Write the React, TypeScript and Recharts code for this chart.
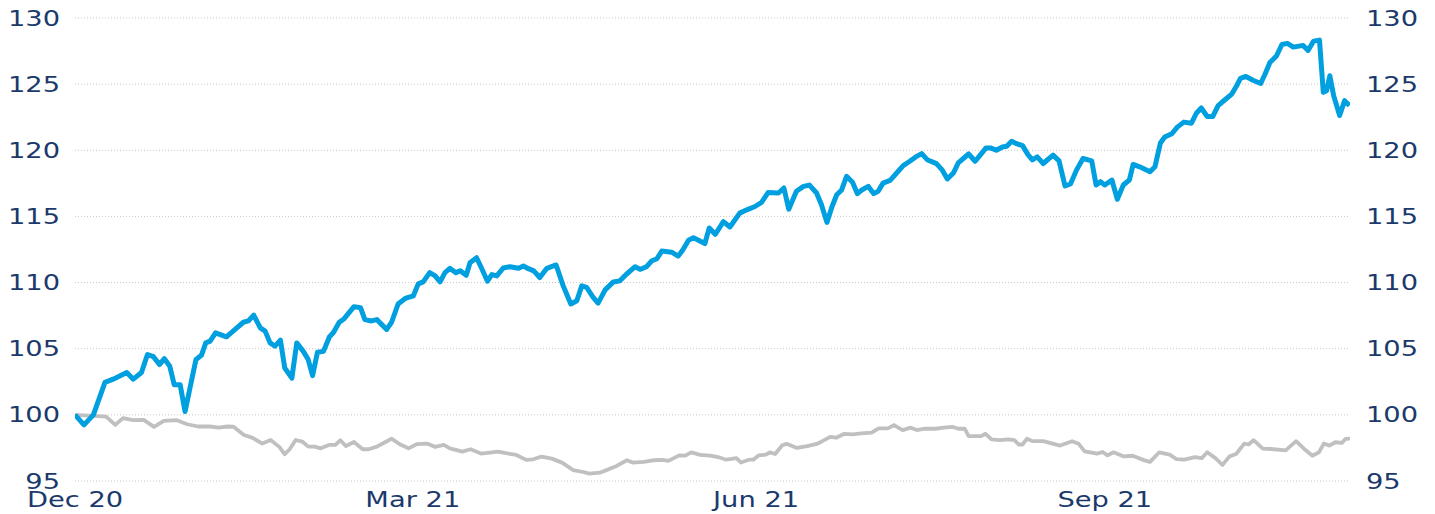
import { LineChart, Line, XAxis, YAxis, CartesianGrid } from "recharts";

// position along the time axis (trading days since 31 Dec 2020) and index level
const blueDay = [
  0, 1.65, 3.37, 5.5, 7.0, 9.5, 10.7, 12.2, 13.3, 14.4, 15.5, 16.4, 17.4, 18.2,
  19.3, 20.2, 22.2, 23.2, 24.0, 24.8, 25.8, 27.8, 29.7, 30.9, 31.8, 32.8, 34.0,
  34.9, 35.8, 36.7, 37.7, 38.5, 39.8, 40.7, 41.9, 42.8, 43.6, 44.5, 45.6, 46.7,
  47.4, 48.5, 49.4, 51.2, 52.4, 53.2, 54.4, 55.4, 57.2, 58.1, 59.3, 60.6, 62.1,
  63.0, 63.9, 65.1, 66.1, 67.0, 67.9, 68.8, 69.9, 70.7, 71.8, 72.5, 73.7, 74.6,
  75.7, 76.5, 77.4, 78.6, 79.8, 81.4, 82.3, 83.2, 84.2, 85.3, 86.6, 88.3, 89.6,
  91.0, 92.1, 93.0, 93.9, 95.1, 96.0, 97.3, 98.8, 100.0, 101.2, 102.8, 103.7,
  104.9, 105.8, 106.8, 107.7, 109.5, 110.7, 111.6, 112.6, 113.5, 115.6, 116.4,
  117.5, 119.0, 120.2, 122.0, 123.3, 124.8, 126.0, 127.2, 129.1, 130.1, 131.0,
  132.4, 133.7, 134.8, 136.1, 137.0, 138.0, 138.9, 139.8, 140.7, 141.6, 142.7,
  143.6, 144.4, 145.6, 146.6, 147.4, 148.3, 149.6, 150.8, 152.0, 153.2, 154.3,
  155.4, 156.4, 158.1, 159.1, 160.1, 161.2, 162.1, 164.0, 165.2, 166.2, 167.2,
  168.0, 169.1, 170.2, 171.0, 171.9, 172.8, 173.9, 174.9, 175.7, 176.6, 177.7,
  179.5, 180.6, 181.7, 182.7, 183.8, 185.0, 186.6, 187.4, 188.2, 189.0, 190.3,
  191.3, 192.4, 193.5, 194.2, 195.4, 197.3, 198.2, 199.2, 200.0, 201.3, 202.3,
  203.5, 204.9, 205.8, 206.7, 207.8, 208.8, 209.8, 211.0, 212.3, 213.2, 213.9,
  214.9, 216.2, 217.6, 218.4, 219.3, 220.5, 221.5, 222.5, 223.6, 225.4, 226.3,
  227.3, 228.4, 229.1, 229.7, 230.3, 231.0, 232.1, 233.0, 233.9,
];
const blueValue = [
  100.0, 99.24, 100.0, 102.46, 102.7, 103.2, 102.7, 103.2, 104.56, 104.4, 103.8,
  104.25, 103.67, 102.28, 102.28, 100.25, 104.18, 104.5, 105.44, 105.57, 106.2,
  105.9, 106.58, 107.0, 107.1, 107.54, 106.58, 106.33, 105.44, 105.2, 105.65,
  103.54, 102.78, 105.44, 104.8, 104.18, 102.96, 104.73, 104.8, 105.9, 106.2,
  107.0, 107.27, 108.18, 108.1, 107.2, 107.1, 107.2, 106.46, 107.0, 108.38,
  108.8, 109.0, 109.9, 110.05, 110.75, 110.5, 110.05, 110.75, 111.08, 110.75,
  110.9, 110.55, 111.5, 111.88, 111.1, 110.1, 110.6, 110.5, 111.1, 111.2,
  111.08, 111.25, 111.05, 110.88, 110.38, 111.08, 111.33, 109.75, 108.38,
  108.63, 109.75, 109.63, 108.88, 108.45, 109.45, 110.05, 110.13, 110.63, 111.2,
  111.0, 111.2, 111.63, 111.8, 112.38, 112.3, 112.0, 112.5, 113.2, 113.38,
  112.95, 114.13, 113.65, 114.6, 114.2, 115.25, 115.5, 115.75, 116.06, 116.8,
  116.77, 117.15, 115.55, 116.9, 117.27, 117.37, 116.77, 115.88, 114.55, 115.7,
  116.64, 117.0, 118.03, 117.58, 116.72, 117.0, 117.27, 116.72, 116.9, 117.52,
  117.73, 118.28, 118.84, 119.17, 119.5, 119.75, 119.29, 118.99, 118.54, 117.83,
  118.28, 119.04, 119.72, 119.17, 119.67, 120.18, 120.18, 120.0, 120.25, 120.3,
  120.68, 120.5, 120.35, 119.67, 119.28, 119.5, 119.0, 119.63, 119.2, 117.3,
  117.45, 118.5, 119.38, 119.2, 117.38, 117.63, 117.38, 117.75, 116.3, 117.38,
  117.75, 118.93, 118.75, 118.38, 118.75, 120.55, 121.0, 121.25, 121.75, 122.13,
  122.05, 122.8, 123.2, 122.55, 122.55, 123.38, 123.8, 124.25, 124.88, 125.43,
  125.58, 125.3, 125.05, 125.75, 126.63, 127.13, 128.0, 128.08, 127.8, 127.93,
  127.55, 128.25, 128.33, 124.38, 124.5, 125.63, 124.13, 122.63, 123.75, 123.38,
];

const greyDay = [
  0, 3.4, 5.7, 7.4, 8.8, 10.7, 12.6, 14.5, 16.3, 18.7, 20.6, 22.6, 24.8, 26.4,
  27.9, 29.1, 31.0, 32.5, 34.4, 35.9, 37.5, 38.5, 39.4, 40.5, 41.7, 42.8, 44.0,
  45.1, 46.6, 47.8, 48.7, 49.7, 51.2, 52.8, 53.9, 55.4, 57.0, 58.1, 59.6, 61.2,
  62.7, 64.6, 66.1, 67.7, 68.8, 71.1, 72.6, 74.5, 76.1, 77.6, 79.1, 81.0, 82.8,
  84.1, 85.6, 87.5, 89.4, 91.4, 93.3, 94.4, 96.3, 97.9, 99.4, 101.3, 102.4,
  104.4, 106.3, 107.8, 108.9, 110.9, 112.0, 113.1, 114.7, 116.6, 118.0, 119.5,
  121.4, 122.2, 123.7, 124.5, 125.5, 126.8, 127.5, 128.5, 129.8, 130.6, 132.5,
  134.4, 136.3, 138.6, 139.7, 141.2, 142.7, 144.3, 146.2, 147.5, 149.2, 150.3,
  151.9, 153.4, 154.5, 156.0, 157.9, 159.5, 161.0, 162.1, 163.3, 164.0, 166.3,
  167.1, 168.2, 169.7, 171.3, 172.4, 173.2, 173.9, 174.7, 175.8, 177.7, 178.9,
  180.8, 183.0, 184.2, 185.3, 187.6, 188.6, 189.5, 190.6, 192.5, 194.1, 196.3,
  197.3, 199.0, 200.9, 202.1, 203.6, 205.5, 206.8, 207.8, 209.3, 210.6, 211.9,
  213.1, 214.6, 215.4, 216.3, 218.0, 219.5, 222.2, 224.1, 225.6, 227.1, 228.3,
  229.2, 230.2, 231.3, 232.5, 233.2, 234.0,
];
const greyValue = [
  100.0, 99.92, 99.87, 99.24, 99.75, 99.6, 99.62, 99.09, 99.55, 99.6, 99.29,
  99.12, 99.12, 99.04, 99.12, 99.1, 98.48, 98.28, 97.83, 98.1, 97.58, 97.02,
  97.4, 98.1, 97.98, 97.6, 97.6, 97.47, 97.73, 97.73, 98.08, 97.65, 97.95, 97.4,
  97.4, 97.6, 97.95, 98.2, 97.78, 97.47, 97.78, 97.83, 97.58, 97.73, 97.47,
  97.22, 97.4, 97.07, 97.15, 97.22, 97.1, 96.97, 96.6, 96.64, 96.84, 96.69,
  96.39, 95.83, 95.68, 95.56, 95.63, 95.88, 96.14, 96.57, 96.39, 96.44, 96.57,
  96.6, 96.52, 96.94, 96.92, 97.17, 96.97, 96.92, 96.81, 96.61, 96.73, 96.4,
  96.61, 96.61, 96.94, 96.99, 97.17, 97.04, 97.7, 97.81, 97.5, 97.63, 97.83,
  98.34, 98.27, 98.57, 98.52, 98.6, 98.65, 98.98, 98.98, 99.23, 98.85, 99.03,
  98.85, 98.95, 98.95, 99.03, 99.1, 98.95, 98.95, 98.39, 98.39, 98.57, 98.14,
  98.09, 98.14, 98.09, 97.76, 97.76, 98.19, 98.01, 98.01, 97.88, 97.68, 98.01,
  97.81, 97.24, 97.07, 97.19, 96.94, 97.17, 96.86, 96.91, 96.56, 96.45, 97.17,
  96.99, 96.66, 96.61, 96.81, 96.73, 97.17, 96.73, 96.22, 96.86, 97.04, 97.83,
  97.76, 98.09, 97.45, 97.42, 97.32, 98.01, 97.42, 96.91, 97.17, 97.83, 97.68,
  97.93, 97.88, 98.19, 98.21,
];

const xTickDays = [0, 62, 125, 189];
const xTickLabels = ["Dec 20", "Mar 21", "Jun 21", "Sep 21"];
const yTicks = [95, 100, 105, 110, 115, 120, 125, 130];

const blueData = blueDay.map((day, i) => ({ day, value: blueValue[i] }));
const greyData = greyDay.map((day, i) => ({ day, value: greyValue[i] }));

const LABEL_COLOR = "#1b3a6b";
const FONT = "DejaVu Sans";
const STRETCH = 1.3;

const YTick = ({ x, y, payload, anchor }: any) => (
  <text
    x={0}
    y={0}
    transform={`translate(${x},${y}) scale(${STRETCH},1)`}
    dy="0.36em"
    textAnchor={anchor}
    fill={LABEL_COLOR}
    fontSize={21}
    fontFamily={FONT}
  >
    {payload.value}
  </text>
);

const XTick = ({ x, y, payload }: any) => {
  const idx = xTickDays.indexOf(payload.value);
  return (
    <text
      x={0}
      y={0}
      transform={`translate(${x},${y + 26}) scale(${STRETCH},1)`}
      textAnchor="middle"
      fill={LABEL_COLOR}
      fontSize={21}
      fontFamily={FONT}
    >
      {xTickLabels[idx]}
    </text>
  );
};

export default function App() {
  return (
    <div
      style={{
        position: "absolute",
        left: 0,
        top: 0,
        width: 1435,
        height: 514,
        background: "#fff",
      }}
    >
      <LineChart
        width={1435}
        height={514}
        margin={{ top: 18, right: 0, bottom: 0, left: 0 }}
      >
        <CartesianGrid
          yAxisId="left"
          vertical={false}
          stroke="#c8c8c8"
          strokeDasharray="1 2"
        />
        <XAxis
          dataKey="day"
          type="number"
          domain={[0, 234]}
          ticks={xTickDays}
          allowDataOverflow
          axisLine={false}
          tickLine={false}
          tickSize={0}
          tickMargin={0}
          height={33}
          tick={<XTick />}
          interval={0}
        />
        <YAxis
          yAxisId="left"
          orientation="left"
          domain={[95, 130]}
          ticks={yTicks}
          width={75}
          axisLine={false}
          tickLine={false}
          tickSize={0}
          tickMargin={15}
          interval={0}
          tick={<YTick anchor="end" />}
        />
        <YAxis
          yAxisId="right"
          orientation="right"
          domain={[95, 130]}
          ticks={yTicks}
          width={85}
          axisLine={false}
          tickLine={false}
          tickSize={0}
          tickMargin={16}
          interval={0}
          tick={<YTick anchor="start" />}
        />
        <Line
          yAxisId="right"
          data={greyData}
          dataKey="value"
          type="linear"
          stroke="#c0c0c0"
          strokeWidth={3.8}
          dot={false}
          strokeLinejoin="round"
          isAnimationActive={false}
        />
        <Line
          yAxisId="left"
          data={blueData}
          dataKey="value"
          type="linear"
          stroke="#009fe0"
          strokeWidth={5}
          dot={false}
          strokeLinejoin="round"
          isAnimationActive={false}
        />
      </LineChart>
    </div>
  );
}
